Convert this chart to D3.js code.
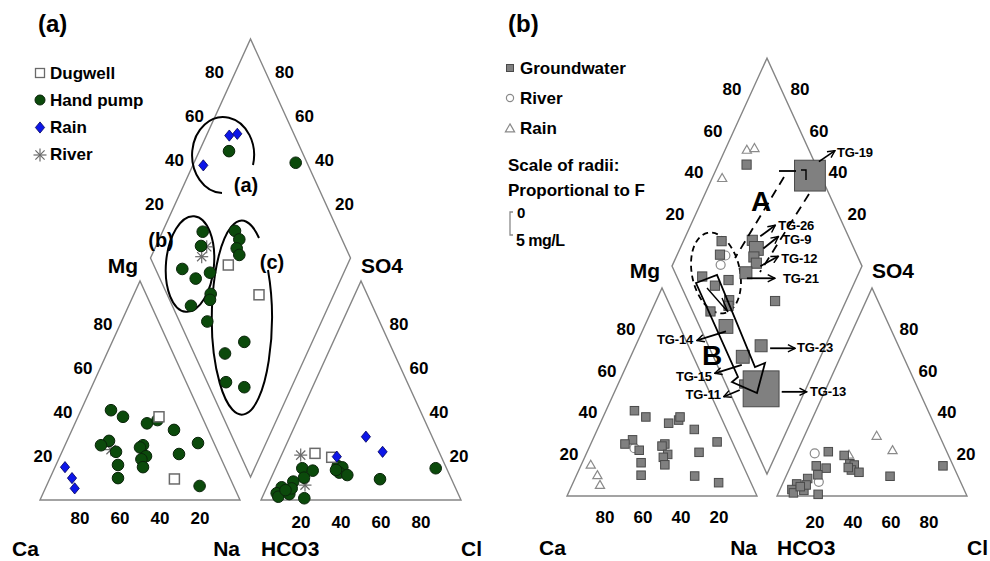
<!DOCTYPE html>
<html><head><meta charset="utf-8">
<script src="https://cdn.jsdelivr.net/npm/d3@7"></script>
<style>body{margin:0;background:#fff}svg{display:block}text{font-family:Arial,"Liberation Sans",sans-serif;font-weight:bold;fill:#000}</style>
</head><body><svg id="c" width="990" height="561"></svg>
<script>
// ---------------- DATA ----------------
const ticks = [20, 40, 60, 80];
// cation triangle: [Ca %, Mg %]
const handCation = [[44,41],[39.5,38],[29,35],[23,36.5],[17,32],[8,26],[20,21],[17,6.4],[52,27],[57,25],[51,22],[53,16],[56,10],[36,25],[38,24],[37,20],[40,18.6],[41,15]];
const dugCation = [[21.5,38],[28,9.6]];
const rainCation = [[80,15],[79,10],[80,5.3]];
const riverCation = [[53,23]];
// anion triangle: [Cl %, SO4 %]
const handAnion = [[80.1,14.5],[54.75,9.5],[30.6,15.5],[33.2,14.9],[32.9,12.5],[37.45,11.4],[30.65,13.7],[13.4,14.5],[19.15,13.4],[16.4,10.2],[11.95,8.4],[7.45,5.8],[6.3,3.1],[7.9,1.5],[12.8,2.7],[12.7,5.3],[21.25,0.8],[10,4.5]];
const dugAnion = [[16.35,21.3],[25.6,19.5]];
const rainAnion = [[38,28.9],[49.8,22],[28,19.8]];
const riverAnion = [[9.6,20.5],[18.6,6.8]];
// diamond: [SO4+Cl %, Ca+Mg %]
const handDiamond = [[63.65,85.15],[94.35,49.15],[32.1,79.9],[28,77.5],[13.4,81.6],[17.9,72.7],[26.4,66.9],[21.9,61.7],[20.2,60.7],[9.35,68.85],[13.9,57.1],[48.45,63.95],[48.65,59.85],[45.3,59.1],[45.1,56.3],[27.75,33.95],[15.45,40.95],[9.4,33.9],[17.4,23.6]];
const dugDiamond = [[37.3,59.5],[45.85,37.35]];
const rainDiamond = [[67.35,88.55],[71.75,84.95],[47.55,94.75]];
const riverDiamond = [[25.9,74.7],[30.65,74.45]];
// fluoride (mg/L) of groundwater samples in the diamond (panel b)
const handF = [2.0,6.7,2.0,2.0,2.0,2.0,2.0,2.0,2.0,2.0,3.0,2.2,3.0,2.2,2.2,2.6,2.8,1.8,7.8];
const dugF = [2.6,2.0];
// sample labels (panel b)
const tgNames = ["TG-19","TG-26","TG-9","TG-12","TG-21","TG-14","TG-23","TG-15","TG-11","TG-13"];
const tgSamples = [["hand",1],["hand",11],["hand",12],["hand",14],["dug",0],["hand",10],["hand",15],["hand",16],["hand",17],["hand",18]];
const legendA = ["Dugwell","Hand pump","Rain","River"];
const legendB = ["Groundwater","River","Rain"];

// ---------------- LAYOUT ----------------
const svg = d3.select("#c");
const defs = svg.append("defs");
defs.append("marker").attr("id","arr").attr("viewBox","0 0 10 10").attr("refX",9).attr("refY",5)
  .attr("markerWidth",9).attr("markerHeight",9).attr("markerUnits","userSpaceOnUse").attr("orient","auto")
  .append("path").attr("d","M1,1 L9,5 L1,9").attr("fill","none").attr("stroke","#000").attr("stroke-width",1.6);

const LINE = "#858585";

function piper(g) {
  const {x0, base, w, gap, h} = g;
  const xa0 = x0 + w + gap;
  const catX = d3.scaleLinear().domain([0,100]).range([x0, x0 + w]);
  const anX = d3.scaleLinear().domain([0,100]).range([xa0, xa0 + w]);
  const triY = d3.scaleLinear().domain([0,100]).range([base, base - h]);
  const Bx = x0 + w + gap / 2, By = base - gap * h / w;
  const dX = d3.scaleLinear().domain([-100,100]).range([Bx - w / 2, Bx + w / 2]);
  const dY = d3.scaleLinear().domain([0,200]).range([By, By - 2 * h]);
  return {
    g, xa0, Bx, By,
    cat: ([ca, mg]) => [catX(100 - ca - mg + mg / 2), triY(mg)],
    an: ([cl, so4]) => [anX(cl + so4 / 2), triY(so4)],
    dia: ([s, cm]) => [dX(s - cm), dY(s + cm)]
  };
}

function frame(P, o) {
  const {x0, base, w, h} = P.g;
  const layer = svg.append("g");
  const pl = pts => layer.append("path").attr("d", "M" + pts.map(p => p.join(",")).join("L") + "Z")
    .attr("fill","none").attr("stroke",LINE).attr("stroke-width",1.4);
  pl([P.cat([100,0]), P.cat([0,0]), P.cat([0,100])]);
  pl([P.an([0,0]), P.an([100,0]), P.an([0,100])]);
  pl([P.dia([0,0]), P.dia([0,100]), P.dia([100,100]), P.dia([100,0])]);
  const lab = (x, y, t, size, anchor) => layer.append("text").attr("x",x).attr("y",y)
    .attr("dominant-baseline","central").attr("text-anchor",anchor || "middle")
    .attr("font-size",size).text(t);
  const L = P.dia([0,100]), T = P.dia([100,100]), R = P.dia([100,0]);
  ticks.forEach(t => {
    let p = P.cat([t, 0]); lab(p[0], p[1] + o.catDy, t, 17);
    p = P.cat([100 - t, t]); lab(p[0] - 17, p[1], t, 17);
    p = P.an([t, 0]); lab(p[0], p[1] + o.anDy, t, 17);
    p = P.an([100 - t, t]); lab(p[0] + 18, p[1], t, 17);
    lab(L[0] + (T[0]-L[0]) * t / 100 - 16, L[1] + (T[1]-L[1]) * t / 100 - 10, t, 17);
    lab(R[0] + (T[0]-R[0]) * t / 100 + 14, R[1] + (T[1]-R[1]) * t / 100 - 10, t, 17);
  });
  const apexC = P.cat([0,100]), apexA = P.an([0,100]);
  lab(apexC[0] - 2, apexC[1] - o.apDy, "Mg", 21, "end");
  lab(apexA[0], apexA[1] - o.apDy, "SO4", 21, "start");
  lab(x0 - 28, base + o.nameDy, "Ca", 21, "start");
  lab(x0 + w, base + o.nameDy, "Na", 21, "end");
  lab(P.xa0, base + o.nameDy, "HCO3", 21, "start");
  lab(P.xa0 + w, base + o.nameDy, "Cl", 21, "start");
}

// marker painters
function circles(g, data, proj, r, fill, stroke, sw) {
  g.selectAll(null).data(data).join("circle").attr("cx", d => proj(d)[0]).attr("cy", d => proj(d)[1])
    .attr("r", r).attr("fill", fill).attr("stroke", stroke).attr("stroke-width", sw);
}
function squares(g, data, proj, sizeFn, fill, stroke, sw) {
  g.selectAll(null).data(data).join("rect")
    .attr("x", (d, i) => proj(d)[0] - sizeFn(d, i) / 2).attr("y", (d, i) => proj(d)[1] - sizeFn(d, i) / 2)
    .attr("width", (d, i) => sizeFn(d, i)).attr("height", (d, i) => sizeFn(d, i))
    .attr("fill", fill).attr("stroke", stroke).attr("stroke-width", sw);
}
function diamonds(g, data, proj) {
  g.selectAll(null).data(data).join("path").attr("transform", d => `translate(${proj(d)})`)
    .attr("d","M0,-5.6L4.6,0L0,5.6L-4.6,0Z").attr("fill","#0d16e8").attr("stroke","#00005a").attr("stroke-width",0.8);
}
function stars(g, data, proj) {
  const s = g.selectAll(null).data(data).join("g").attr("transform", d => `translate(${proj(d)})`);
  [0,45,90,135].forEach(a => s.append("line").attr("x1",-6.5).attr("x2",6.5).attr("y1",0).attr("y2",0)
    .attr("transform",`rotate(${a})`).attr("stroke","#6a6a6a").attr("stroke-width",1.2));
}
function triangles(g, data, proj) {
  g.selectAll(null).data(data).join("path").attr("transform", d => `translate(${proj(d)})`)
    .attr("d","M0,-4.6L4.6,3.4L-4.6,3.4Z").attr("fill","#fff").attr("stroke","#8a8a8a").attr("stroke-width",1.2);
}

// ---------------- PANEL A ----------------
const PA = piper({x0:40, base:500, w:200, gap:21, h:219});
frame(PA, {catDy:18, anDy:22, apDy:16, nameDy:48});
svg.append("text").attr("x",38).attr("y",23).attr("dominant-baseline","central").attr("font-size",24).text("(a)");

// annotation curves (a)
const annA = svg.append("g").attr("fill","none").attr("stroke","#000").attr("stroke-width",2);
annA.append("path").attr("d","M253,165 A31 38 0 1 0 222,193");
annA.append("ellipse").attr("cx",190).attr("cy",264).attr("rx",24).attr("ry",48).attr("transform","rotate(5 190 264)");
annA.append("path").attr("d","M259,238 A30 97 0 1 0 268,270");
[["(a)",246,185],["(b)",161,240],["(c)",272,262]].forEach(([t,x,y]) =>
  svg.append("text").attr("x",x).attr("y",y).attr("dominant-baseline","central").attr("text-anchor","middle").attr("font-size",20).text(t));

const gA = svg.append("g");
[[PA.cat, handCation, dugCation, rainCation, riverCation],
 [PA.an, handAnion, dugAnion, rainAnion, riverAnion],
 [PA.dia, handDiamond, dugDiamond, rainDiamond, riverDiamond]].forEach(([proj, hd, dg, rn, rv]) => {
  stars(gA, rv, proj);
  circles(gA, hd, proj, 5.8, "#0b4a0b", "#0a240a", 1);
  squares(gA, dg, proj, () => 10, "#fff", "#6a6a6a", 1.5);
  diamonds(gA, rn, proj);
});

// legend A
const legA = svg.append("g");
legendA.forEach((t, i) => {
  const y = 73 + i * 27.2;
  legA.append("text").attr("x",50).attr("y",y).attr("dominant-baseline","central").attr("font-size",17).text(t);
});
squares(legA, [[40,73]], d => d, () => 9, "#fff", "#6a6a6a", 1.3);
circles(legA, [[40,100]], d => d, 5, "#0b4a0b", "#0a240a", 1);
diamonds(legA, [[40,127.5]], d => d);
stars(legA, [[40,155]], d => d);

// ---------------- PANEL B ----------------
const PB = piper({x0:567, base:496, w:190, gap:20, h:208});
frame(PB, {catDy:21, anDy:26, apDy:18, nameDy:51});
svg.append("text").attr("x",508).attr("y",23).attr("dominant-baseline","central").attr("font-size",24).text("(b)");

const FSCALE = d3.scaleLinear().domain([0,5]).range([0,23]);
const annB = svg.append("g").attr("fill","none").attr("stroke","#000");
annB.append("ellipse").attr("cx",716).attr("cy",273).attr("rx",24).attr("ry",41).attr("transform","rotate(-12 716 273)")
  .attr("stroke-width",1.8).attr("stroke-dasharray","6,4");

const gB = svg.append("g");
[[PB.cat, handCation, dugCation, rainCation, riverCation, null, null],
 [PB.an, handAnion, dugAnion, rainAnion, riverAnion, null, null],
 [PB.dia, handDiamond, dugDiamond, rainDiamond, riverDiamond, handF, dugF]].forEach(([proj, hd, dg, rn, rv, hf, df]) => {
  triangles(gB, rn, proj);
  circles(gB, rv, proj, 4.5, "#fff", "#8a8a8a", 1.2);
  squares(gB, hd, proj, (d, i) => hf ? FSCALE(hf[i]) : 8.5, "#808080", "#4a4a4a", 1);
  squares(gB, dg, proj, (d, i) => df ? FSCALE(df[i]) : 8.5, "#808080", "#4a4a4a", 1);
});

// arrows A and B
const ann2 = svg.append("g").attr("fill","none").attr("stroke","#000").attr("stroke-width",1.8);
ann2.append("path").attr("d","M784,177 L735,258").attr("stroke-dasharray","9,6");
ann2.append("path").attr("d","M809,194 L760,272").attr("stroke-dasharray","9,6");
ann2.append("path").attr("d","M779,171 L796,171");
ann2.append("path").attr("d","M801,170 L806,170 L806,180").attr("stroke-width",1.4);
ann2.append("path").attr("d","M696,283 L717,275 L755,367 L765,363 L757,393 L732,382 L738,377 Z");
ann2.append("path").attr("d","M707,288 L728,312 M722,298 L728,312").attr("stroke-width",1.4);
[["A",761,201],["B",712,355]].forEach(([t,x,y]) =>
  svg.append("text").attr("x",x).attr("y",y).attr("dominant-baseline","central").attr("text-anchor","middle").attr("font-size",28).text(t));

// TG labels: [arrow start offset, arrow end offset, text offset, anchor]
const tgLayout = [
  [[9,-14],[25,-25],[27,-23],"start"],
  [[8,-4],[23,-15],[26,-14.5],"start"],
  [[7,0],[22,-12],[26,-9],"start"],
  [[4,3],[22,-7],[25,-4.5],"start"],
  [[1,5.5],[29,5.5],[37,5.5],"start"],
  [[0,5],[-29,14],[-33,13],"end"],
  [[9,2.5],[34,2.5],[36,1.5],"start"],
  [[-1,8],[-28,16.5],[-31,20],"end"],
  [[-4,6],[-20,12.7],[-23,10.5],"end"],
  [[20.6,3],[45.6,3],[49,3],"start"]
];
const tgG = svg.append("g");
tgNames.forEach((name, k) => {
  const [src, idx] = tgSamples[k];
  const p = PB.dia(src === "hand" ? handDiamond[idx] : dugDiamond[idx]);
  const [a, b, t, anc] = tgLayout[k];
  tgG.append("line").attr("x1",p[0]+a[0]).attr("y1",p[1]+a[1]).attr("x2",p[0]+b[0]).attr("y2",p[1]+b[1])
    .attr("stroke","#000").attr("stroke-width",1.8).attr("marker-end","url(#arr)");
  tgG.append("text").attr("x",p[0]+t[0]).attr("y",p[1]+t[1]).attr("dominant-baseline","central")
    .attr("text-anchor",anc).attr("font-size",13).attr("letter-spacing",-0.2).text(name);
});

// legend B
const legB = svg.append("g");
legendB.forEach((t, i) => {
  legB.append("text").attr("x",520).attr("y",68 + i * 30).attr("dominant-baseline","central").attr("font-size",17).text(t);
});
squares(legB, [[510,68]], d => d, () => 7, "#808080", "#4a4a4a", 1);
circles(legB, [[510,98]], d => d, 3.6, "#fff", "#8a8a8a", 1.2);
triangles(legB, [[510,128.5]], d => d);
legB.append("text").attr("x",508).attr("y",165).attr("dominant-baseline","central").attr("font-size",17).text("Scale of radii:");
legB.append("text").attr("x",508).attr("y",190).attr("dominant-baseline","central").attr("font-size",17).text("Proportional to F");
legB.append("path").attr("d",`M513,${235 - FSCALE(5)} L510,${235 - FSCALE(5)} L510,235 L513,235`).attr("fill","none").attr("stroke","#8a8a8a").attr("stroke-width",1.3);
legB.append("text").attr("x",517).attr("y",212).attr("dominant-baseline","central").attr("font-size",15).text("0");
legB.append("text").attr("x",516).attr("y",240).attr("dominant-baseline","central").attr("font-size",16).attr("letter-spacing",-0.5).text("5 mg/L");
</script></body></html>
